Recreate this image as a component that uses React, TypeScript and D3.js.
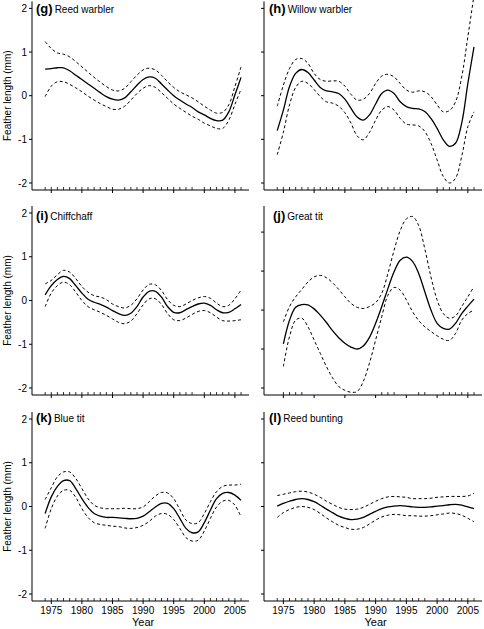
import React from "react";
import * as d3 from "d3";

// ---------- data ----------
const yearsA = d3.range(1974, 2007); // 1974..2006
const yearsJ = d3.range(1975, 2007); // 1975..2006
const majorYears = [1975, 1980, 1985, 1990, 1995, 2000, 2005];
const yTicks = [-2, -1, 0, 1, 2];

const gFit = [0.61,0.62,0.64,0.64,0.57,0.47,0.37,0.27,0.17,0.07,-0.02,-0.08,-0.10,-0.05,0.09,0.24,0.37,0.43,0.40,0.27,0.13,0.0,-0.10,-0.19,-0.27,-0.37,-0.44,-0.52,-0.57,-0.56,-0.37,0.02,0.42];
const gUp = [1.24,1.08,0.98,0.95,0.89,0.78,0.66,0.54,0.42,0.31,0.21,0.13,0.11,0.17,0.32,0.47,0.59,0.63,0.59,0.47,0.32,0.19,0.09,0.02,-0.05,-0.14,-0.24,-0.33,-0.40,-0.38,-0.21,0.21,0.66];
const gLo = [-0.02,0.22,0.32,0.32,0.26,0.18,0.09,-0.01,-0.10,-0.18,-0.25,-0.31,-0.31,-0.24,-0.10,0.05,0.17,0.23,0.19,0.07,-0.06,-0.19,-0.29,-0.38,-0.47,-0.54,-0.63,-0.69,-0.75,-0.75,-0.56,-0.20,0.15];

const hFit = [-0.80,-0.33,0.21,0.51,0.60,0.53,0.36,0.19,0.11,0.09,0.05,-0.08,-0.29,-0.49,-0.56,-0.44,-0.19,0.05,0.13,0.05,-0.14,-0.25,-0.29,-0.30,-0.36,-0.52,-0.75,-1.01,-1.16,-1.09,-0.63,0.28,1.12];
const hUp = [-0.24,0.24,0.62,0.83,0.85,0.74,0.51,0.37,0.33,0.34,0.33,0.22,0.03,-0.10,-0.08,0.05,0.28,0.45,0.49,0.43,0.28,0.13,0.08,0.11,0.09,-0.02,-0.21,-0.37,-0.34,-0.14,0.43,1.35,2.30];
const hLo = [-1.35,-0.84,-0.21,0.19,0.33,0.28,0.14,-0.02,-0.14,-0.17,-0.24,-0.39,-0.63,-0.92,-1.01,-0.84,-0.56,-0.33,-0.25,-0.33,-0.52,-0.65,-0.67,-0.69,-0.82,-1.09,-1.47,-1.85,-2.00,-1.89,-1.39,-0.71,-0.37];

const iFit = [0.13,0.34,0.48,0.55,0.50,0.34,0.17,0.03,-0.04,-0.09,-0.15,-0.23,-0.30,-0.34,-0.29,-0.14,0.08,0.21,0.21,0.08,-0.14,-0.27,-0.28,-0.21,-0.14,-0.08,-0.06,-0.11,-0.21,-0.28,-0.27,-0.19,-0.09];
const iUp = [0.38,0.46,0.59,0.69,0.65,0.50,0.32,0.19,0.11,0.08,0.02,-0.08,-0.14,-0.17,-0.11,0.04,0.24,0.37,0.36,0.23,0.02,-0.11,-0.14,-0.08,0.0,0.06,0.09,0.05,-0.06,-0.14,-0.11,0.04,0.24];
const iLo = [-0.14,0.17,0.34,0.42,0.36,0.19,0.0,-0.14,-0.21,-0.27,-0.34,-0.42,-0.50,-0.53,-0.47,-0.30,-0.10,0.04,0.04,-0.09,-0.30,-0.44,-0.46,-0.40,-0.32,-0.25,-0.23,-0.28,-0.38,-0.46,-0.47,-0.46,-0.44];

const jFit = [-0.87,-0.26,0.07,0.14,0.13,0.03,-0.13,-0.32,-0.53,-0.71,-0.85,-0.95,-1.0,-0.92,-0.70,-0.34,0.09,0.55,0.98,1.28,1.36,1.25,0.94,0.47,0.0,-0.34,-0.47,-0.49,-0.34,-0.09,0.10,0.28];
const jUp = [-0.30,0.09,0.34,0.53,0.72,0.85,0.89,0.83,0.70,0.53,0.34,0.17,0.07,0.04,0.09,0.19,0.43,0.94,1.53,2.04,2.34,2.40,2.17,1.57,0.85,0.26,-0.09,-0.21,-0.15,0.09,0.34,0.60];
const jLo = [-1.45,-0.68,-0.26,-0.21,-0.43,-0.77,-1.11,-1.45,-1.74,-1.96,-2.06,-2.11,-2.09,-1.83,-1.36,-0.77,-0.17,0.38,0.58,0.51,0.26,-0.04,-0.27,-0.43,-0.55,-0.66,-0.75,-0.78,-0.60,-0.26,-0.09,0.0];

const kFit = [-0.16,0.22,0.46,0.59,0.59,0.41,0.18,-0.02,-0.16,-0.22,-0.25,-0.25,-0.26,-0.27,-0.28,-0.27,-0.22,-0.12,-0.01,0.07,0.07,-0.05,-0.27,-0.50,-0.60,-0.58,-0.37,-0.08,0.18,0.30,0.32,0.26,0.14];
const kUp = [0.16,0.43,0.68,0.79,0.79,0.64,0.41,0.18,0.03,-0.03,-0.05,-0.05,-0.05,-0.04,-0.05,-0.05,-0.01,0.11,0.24,0.32,0.31,0.18,-0.07,-0.31,-0.39,-0.37,-0.16,0.11,0.34,0.46,0.49,0.49,0.51];
const kLo = [-0.50,-0.05,0.24,0.37,0.37,0.21,-0.05,-0.25,-0.37,-0.41,-0.43,-0.45,-0.46,-0.49,-0.50,-0.48,-0.43,-0.34,-0.22,-0.16,-0.18,-0.30,-0.50,-0.71,-0.79,-0.77,-0.56,-0.27,-0.01,0.12,0.14,0.03,-0.24];

const lFit = [0.01,0.07,0.12,0.16,0.18,0.16,0.11,0.03,-0.06,-0.14,-0.22,-0.27,-0.30,-0.29,-0.25,-0.18,-0.11,-0.05,-0.01,0.01,0.02,0.01,-0.01,-0.02,-0.02,-0.01,0.01,0.02,0.04,0.05,0.03,-0.01,-0.05];
const lUp = [0.25,0.28,0.31,0.34,0.35,0.33,0.28,0.21,0.12,0.05,-0.02,-0.06,-0.07,-0.06,-0.02,0.05,0.12,0.18,0.22,0.23,0.22,0.21,0.18,0.18,0.18,0.19,0.21,0.22,0.23,0.23,0.23,0.24,0.30];
const lLo = [-0.25,-0.14,-0.07,-0.02,0.0,-0.02,-0.07,-0.16,-0.26,-0.35,-0.43,-0.48,-0.52,-0.52,-0.48,-0.40,-0.31,-0.24,-0.20,-0.18,-0.19,-0.21,-0.21,-0.22,-0.22,-0.21,-0.19,-0.17,-0.15,-0.16,-0.20,-0.27,-0.35];

const rugG = [...d3.range(1974, 1986), ...d3.range(1987, 1999), ...d3.range(2000, 2007)];
const rugH = [...d3.range(1974, 1987), ...d3.range(1988, 1998), ...d3.range(2000, 2007)];
const rugI = [...d3.range(1974, 1986), ...d3.range(1987, 1999), ...d3.range(2000, 2007)];
const rugJ = [1975, 1976, 1977, 1978, 1991, 1992, 1993, 1997, 1998, 2001, 2002, 2003, 2004, 2005, 2006];
const rugK = [...d3.range(1974, 1987), ...d3.range(1988, 1999), ...d3.range(2000, 2007)];
const rugL = [...d3.range(1974, 1986), ...d3.range(1987, 1999), ...d3.range(2000, 2007)];

const letters = ["g", "h", "i", "j", "k", "l"];
const species = ["Reed warbler", "Willow warbler", "Chiffchaff", "Great tit", "Blue tit", "Reed bunting"];

// ---------- layout ----------
const W = 484, H = 629;
const FONT = "Liberation Sans, Arial, Helvetica, sans-serif";
const colX = [[32, 249], [264, 482]];
const rowY = [[190, 1.4], [395, 206], [601, 412]];
const xDomain = [1971.85, 2007.3];
const yDomainStd = [-2.16, 2.16];
const yDomainJ = [-2.18, 2.67];

type PanelDef = { years: number[]; fit: number[]; up: number[]; lo: number[]; rug: number[]; yDom: number[] };
const panels: PanelDef[] = [
  { years: yearsA, fit: gFit, up: gUp, lo: gLo, rug: rugG, yDom: yDomainStd },
  { years: yearsA, fit: hFit, up: hUp, lo: hLo, rug: rugH, yDom: yDomainStd },
  { years: yearsA, fit: iFit, up: iUp, lo: iLo, rug: rugI, yDom: yDomainStd },
  { years: yearsJ, fit: jFit, up: jUp, lo: jLo, rug: rugJ, yDom: yDomainJ },
  { years: yearsA, fit: kFit, up: kUp, lo: kLo, rug: rugK, yDom: yDomainStd },
  { years: yearsA, fit: lFit, up: lUp, lo: lLo, rug: rugL, yDom: yDomainStd },
];

function Panel({ idx }: { idx: number }) {
  const p = panels[idx];
  const col = idx % 2;
  const row = Math.floor(idx / 2);
  const x = d3.scaleLinear().domain(xDomain).range(colX[col]);
  const y = d3.scaleLinear().domain(p.yDom).range(rowY[row]);
  const x0 = colX[col][0], x1 = colX[col][1];
  const yb = rowY[row][0], yt = rowY[row][1];
  const mk = (vals: number[]) =>
    d3.line<number>().x((_, i) => x(p.years[i])).y((v) => y(v)).curve(d3.curveCatmullRom.alpha(0.5))(vals) || "";
  const clipId = `clip-${idx}`;
  const showYLabels = col === 0;
  const showXLabels = row === 2;
  return (
    <g>
      <defs>
        <clipPath id={clipId}>
          <rect x={x0} y={Math.max(0, yt - 10)} width={x1 - x0} height={yb - Math.max(0, yt - 10)} />
        </clipPath>
      </defs>
      {/* axes */}
      <line x1={x0} x2={x0} y1={yt} y2={yb} stroke="#000" strokeWidth={1} />
      <line x1={x0} x2={x1} y1={yb} y2={yb} stroke="#000" strokeWidth={1} />
      {yTicks.map((t) => (
        <g key={t}>
          <line x1={x0 - 3} x2={x0} y1={y(t)} y2={y(t)} stroke="#000" strokeWidth={1} />
          {showYLabels && (
            <text x={x0 - 5} y={y(t)} dy="0.35em" textAnchor="end" fontSize={10} fontFamily={FONT}>
              {t < 0 ? `\u2212${-t}`.replace("\u2212", "-") : t}
            </text>
          )}
        </g>
      ))}
      {majorYears.map((yr) => (
        <g key={yr}>
          <line x1={x(yr)} x2={x(yr)} y1={yb} y2={yb + 3} stroke="#000" strokeWidth={1} />
          {showXLabels && (
            <text x={x(yr)} y={yb + 13} textAnchor="middle" fontSize={10} fontFamily={FONT}>
              {yr}
            </text>
          )}
        </g>
      ))}
      {p.rug.map((yr) => (
        <line key={yr} x1={x(yr)} x2={x(yr)} y1={yb} y2={yb - 3} stroke="#000" strokeWidth={0.8} />
      ))}
      {/* curves */}
      <g clipPath={`url(#${clipId})`} fill="none">
        <path d={mk(p.up)} stroke="#000" strokeWidth={1} strokeDasharray="3,2.5" />
        <path d={mk(p.lo)} stroke="#000" strokeWidth={1} strokeDasharray="3,2.5" />
        <path d={mk(p.fit)} stroke="#000" strokeWidth={1.3} />
      </g>
      {/* title */}
      <text x={x0 + (col === 0 ? 4 : idx === 3 ? 9 : 5)} y={row === 0 ? 12.5 : row === 1 ? 220 : 422} fontFamily={FONT}>
        <tspan fontWeight="bold" fontSize={13}>({letters[idx]})</tspan>
        <tspan fontSize={10} dx={2}>{species[idx]}</tspan>
      </text>
      {showYLabels && (
        <text
          transform={`translate(11,${y(0)}) rotate(-90)`}
          textAnchor="middle"
          fontSize={10}
          fontFamily={FONT}
        >
          Feather length (mm)
        </text>
      )}
      {showXLabels && (
        <text x={(x(1975) + x(2005)) / 2} y={626} textAnchor="middle" fontSize={11} fontFamily={FONT}>
          Year
        </text>
      )}
    </g>
  );
}

export default function App() {
  return (
    <svg
      width={W}
      height={H}
      viewBox={`0 0 ${W} ${H}`}
      style={{ position: "absolute", left: 0, top: 0, background: "#fff" }}
    >
      <rect width={W} height={H} fill="#fff" />
      {panels.map((_, i) => (
        <Panel key={i} idx={i} />
      ))}
    </svg>
  );
}
